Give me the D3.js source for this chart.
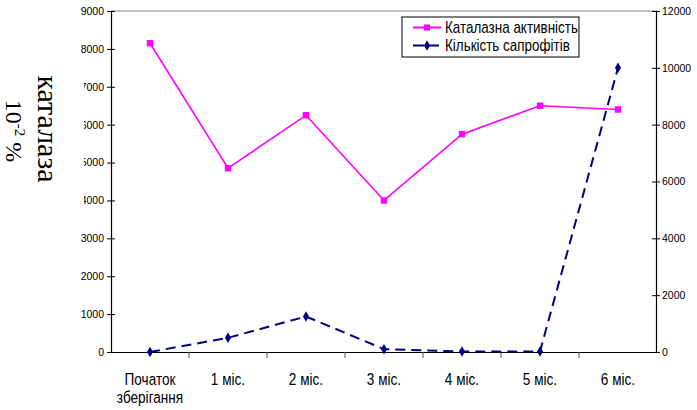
<!DOCTYPE html>
<html>
<head>
<meta charset="utf-8">
<script src="https://cdn.jsdelivr.net/npm/d3@7"></script>
<style>
  html, body { margin: 0; padding: 0; background: #fff; }
  svg { display: block; font-family: "Liberation Sans", Arial, sans-serif; }
</style>
</head>
<body>
<svg id="chart" width="697" height="410"></svg>
<script>
// Storage periods, catalase activity (left axis) and saprophyte count (right axis)
const categories = ["Початок\nзберігання", "1 міс.", "2 міс.", "3 міс.", "4 міс.", "5 міс.", "6 міс."];
const catalase = [8150, 4850, 6250, 4000, 5750, 6500, 6400];
const saprophytes = [0, 500, 1250, 100, 20, 20, 10000];
const leftTicks = [0, 1000, 2000, 3000, 4000, 5000, 6000, 7000, 8000, 9000];
const rightTicks = [0, 2000, 4000, 6000, 8000, 10000, 12000];
const seriesNames = ["Каталазна активність", "Кількість сапрофітів"];

const svg = d3.select("#chart");
const plot = { left: 111, right: 657, top: 11, bottom: 352 };
const sans = "Liberation Sans, Arial, sans-serif";
const serif = "Liberation Serif, Times New Roman, serif";

const x = d3.scaleBand().domain(categories).range([plot.left, plot.right]);
const yL = d3.scaleLinear().domain([0, 9000]).range([plot.bottom, plot.top]);
const yR = d3.scaleLinear().domain([0, 12000]).range([plot.bottom, plot.top]);
const cx = d => x(d) + x.bandwidth() / 2;

// top frame line
svg.append("line")
  .attr("x1", plot.left).attr("x2", plot.right)
  .attr("y1", plot.top).attr("y2", plot.top)
  .attr("stroke", "#888").attr("stroke-width", 1);

// bottom category axis
const gx = svg.append("g")
  .attr("transform", `translate(0,${plot.bottom})`)
  .call(d3.axisBottom(x).tickSize(0).tickFormat(""));
gx.select(".domain").attr("stroke", "#000").attr("stroke-width", 1.2);
gx.selectAll(".tick").remove();
// tick marks on band boundaries
gx.selectAll("line.sep")
  .data(categories.slice(1))
  .enter().append("line")
  .attr("class", "sep")
  .attr("x1", d => x(d)).attr("x2", d => x(d))
  .attr("y1", 0).attr("y2", 6)
  .attr("stroke", "#555").attr("stroke-width", 1);
// category labels
gx.selectAll("g.lab")
  .data(categories)
  .enter().append("g")
  .attr("class", "lab")
  .attr("transform", d => `translate(${cx(d)},0) scale(0.8,1)`)
  .each(function(d) {
    const t = d3.select(this).append("text")
      .attr("text-anchor", "middle")
      .style("font-family", sans)
      .style("font-size", "17px")
      .attr("fill", "#000");
    d.split("\n").forEach((line, i) => {
      t.append("tspan").attr("x", 0).attr("y", 33 + i * 18).text(line);
    });
  });

// left axis
const gl = svg.append("g")
  .attr("transform", `translate(${plot.left},0)`)
  .call(d3.axisLeft(yL).tickValues(leftTicks).tickFormat(d3.format("d")).tickSize(4).tickPadding(3));
gl.select(".domain").attr("stroke", "#000").attr("stroke-width", 1.2);
gl.selectAll(".tick line").attr("x1", 4).attr("x2", -4).attr("stroke", "#000");
gl.selectAll(".tick text").style("font-size", "10.5px").style("font-family", sans).attr("fill", "#000");

// right axis
const gr = svg.append("g")
  .attr("transform", `translate(${plot.right - 1},0)`)
  .call(d3.axisRight(yR).tickValues(rightTicks).tickFormat(d3.format("d")).tickSize(4).tickPadding(2));
gr.select(".domain").attr("stroke", "#000").attr("stroke-width", 1.2);
gr.selectAll(".tick line").attr("x1", -4).attr("x2", 4).attr("stroke", "#000");
gr.selectAll(".tick text").style("font-size", "10.5px").style("font-family", sans).attr("fill", "#000");

// catalase line
const lineL = d3.line().x((d, i) => cx(categories[i])).y(d => yL(d));
svg.append("path")
  .datum(catalase)
  .attr("d", lineL)
  .attr("fill", "none").attr("stroke", "#ff00ff").attr("stroke-width", 1.6);
svg.selectAll("rect.mk")
  .data(catalase)
  .enter().append("rect")
  .attr("class", "mk")
  .attr("x", (d, i) => cx(categories[i]) - 3.2)
  .attr("y", d => yL(d) - 3.2)
  .attr("width", 6.4).attr("height", 6.4)
  .attr("fill", "#ff00ff");

// saprophyte line
const lineR = d3.line().x((d, i) => cx(categories[i])).y(d => yR(d));
svg.append("path")
  .datum(saprophytes)
  .attr("d", lineR)
  .attr("fill", "none").attr("stroke", "#000080").attr("stroke-width", 2)
  .attr("stroke-dasharray", "10,6");
const diamond = d3.symbol().type(d3.symbolDiamond).size(32);
svg.selectAll("path.dm")
  .data(saprophytes)
  .enter().append("path")
  .attr("class", "dm")
  .attr("d", diamond)
  .attr("transform", (d, i) => `translate(${cx(categories[i])},${yR(d)})`)
  .attr("fill", "#000080");

// legend
const lg = svg.append("g").attr("transform", "translate(402,17)");
lg.append("rect").attr("x", 0).attr("y", 0).attr("width", 177).attr("height", 40)
  .attr("fill", "#fff").attr("stroke", "#000").attr("stroke-width", 1);
lg.append("line").attr("x1", 11).attr("x2", 39).attr("y1", 10.5).attr("y2", 10.5)
  .attr("stroke", "#ff00ff").attr("stroke-width", 2);
lg.append("rect").attr("x", 22).attr("y", 7.5).attr("width", 6).attr("height", 6).attr("fill", "#ff00ff");
lg.append("line").attr("x1", 11).attr("x2", 39).attr("y1", 28.5).attr("y2", 28.5)
  .attr("stroke", "#000080").attr("stroke-width", 2).attr("stroke-dasharray", "11,4");
lg.append("path").attr("d", diamond).attr("transform", "translate(25,28.5)").attr("fill", "#000080");
seriesNames.forEach((name, i) => {
  lg.append("g")
    .attr("transform", `translate(43,${16 + i * 18}) scale(0.84,1)`)
    .append("text")
    .style("font-family", sans)
    .style("font-size", "16px")
    .attr("fill", "#000")
    .text(name);
});

// left axis title on a white box
const tb = svg.append("g");
tb.append("rect").attr("x", 0).attr("y", 62).attr("width", 84).attr("height", 160).attr("fill", "#fff");
tb.append("text")
  .attr("transform", "translate(38,129) rotate(90)")
  .attr("text-anchor", "middle")
  .style("font-family", serif)
  .style("font-size", "30px")
  .attr("fill", "#000")
  .text("каталаза");
const t2 = tb.append("text")
  .attr("transform", "translate(6,131) rotate(90)")
  .attr("text-anchor", "middle")
  .style("font-family", serif)
  .style("font-size", "24px")
  .attr("fill", "#000");
t2.append("tspan").text("10");
t2.append("tspan").attr("dy", -9).style("font-size", "15px").text("-2");
t2.append("tspan").attr("dy", 9).text(" %");
</script>
</body>
</html>
